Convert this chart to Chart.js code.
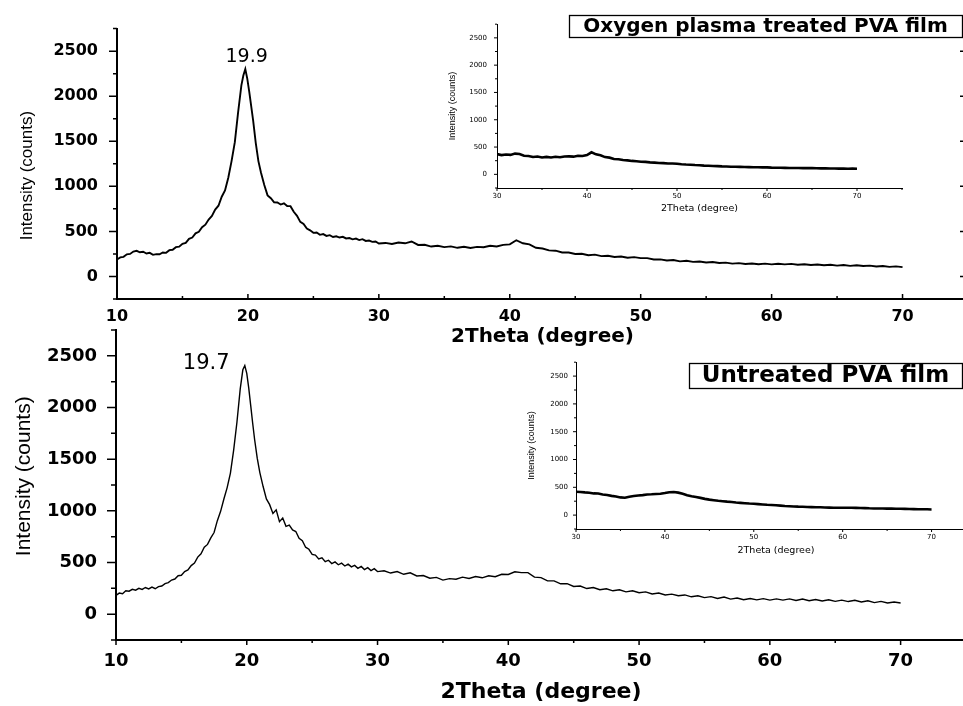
<!DOCTYPE html>
<html>
<head>
<meta charset="utf-8">
<script src="https://cdn.jsdelivr.net/npm/chart.js@4.4.0/dist/chart.umd.min.js"></script>
<style>
html,body{margin:0;padding:0;background:#fff;width:963px;height:706px;overflow:hidden;}
body{position:relative;}
canvas{position:absolute;}
</style>
</head>
<body>
<canvas id="mainTop" width="975" height="350" style="left:0;top:0"></canvas>
<canvas id="mainBottom" width="975" height="406" style="left:0;top:300px"></canvas>
<canvas id="insetTop" width="470" height="210" style="left:440px;top:10px"></canvas>
<canvas id="insetBottom" width="460" height="210" style="left:520px;top:350px"></canvas>
<script>
// ---------- tick labels ----------
const mainXTicks = [10, 20, 30, 40, 50, 60, 70];
const insetXTicks = [30, 40, 50, 60, 70];
const yTicks = [0, 500, 1000, 1500, 2000, 2500];

// ---------- Oxygen plasma treated PVA film (main, 2theta 10-70) ----------
const treatedMainX = [
  10,10.25,10.5,10.75,11,11.25,11.5,11.75,12,12.25,12.5,12.75,13,13.25,13.5,13.75,14,14.25,14.5,14.75,
  15,15.25,15.5,15.75,16,16.25,16.5,16.75,17,17.25,17.5,17.75,18,18.25,18.5,18.75,19,19.25,19.5,
  19.65,19.8,19.95,20.1,20.25,20.4,20.6,20.8,
  21,21.25,21.5,21.75,22,22.25,22.5,22.75,23,23.25,23.5,23.75,24,24.25,24.5,24.75,
  25,25.25,25.5,25.75,26,26.25,26.5,26.75,27,27.25,27.5,27.75,28,28.25,28.5,28.75,29,29.25,29.5,29.75,30,
  30.5,31,31.5,32,32.5,33,33.5,34,34.5,35,35.5,36,36.5,37,37.5,38,38.5,39,39.5,40,
  40.5,41,41.5,42,42.5,43,43.5,44,44.5,45,45.5,46,46.5,47,47.5,48,48.5,49,49.5,50,
  50.5,51,51.5,52,52.5,53,53.5,54,54.5,55,55.5,56,56.5,57,57.5,58,58.5,59,59.5,60,
  60.5,61,61.5,62,62.5,63,63.5,64,64.5,65,65.5,66,66.5,67,67.5,68,68.5,69,69.5,70
];
const treatedMainY = [
  188,212,218,246,250,276,285,268,274,255,262,240,248,246,266,262,292,296,325,330,
  362,372,418,432,478,495,546,575,632,672,742,785,885,955,1095,1280,1490,1820,2120,
  2230,2300,2195,2050,1890,1730,1480,1280,
  1150,1015,900,868,822,820,798,812,782,780,718,672,606,582,532,512,
  484,488,462,470,450,458,438,446,432,440,422,426,412,420,404,414,394,398,384,388,366,
  372,360,376,368,388,350,352,332,340,326,334,318,330,316,328,324,340,332,350,356,
  402,368,356,318,310,290,286,266,266,250,252,236,242,226,230,216,222,208,214,204,
  204,188,190,178,182,168,174,162,166,155,161,150,154,142,148,138,144,136,142,134,
  141,134,140,130,136,127,133,124,130,120,127,118,125,116,120,110,116,106,112,104
];

// ---------- Untreated PVA film (main, 2theta 10-70) ----------
const untreatedMainX = [
  10,10.25,10.5,10.75,11,11.25,11.5,11.75,12,12.25,12.5,12.75,13,13.25,13.5,13.75,14,14.25,14.5,14.75,
  15,15.25,15.5,15.75,16,16.25,16.5,16.75,17,17.25,17.5,17.75,18,18.25,18.5,18.75,19,19.25,19.5,
  19.7,19.85,20,20.15,20.3,20.45,20.6,20.8,
  21,21.25,21.5,21.75,22,22.25,22.5,22.75,23,23.25,23.5,23.75,24,24.25,24.5,24.75,
  25,25.25,25.5,25.75,26,26.25,26.5,26.75,27,27.25,27.5,27.75,28,28.25,28.5,28.75,29,29.25,29.5,29.75,30,
  30.5,31,31.5,32,32.5,33,33.5,34,34.5,35,35.5,36,36.5,37,37.5,38,38.5,39,39.5,40,
  40.5,41,41.5,42,42.5,43,43.5,44,44.5,45,45.5,46,46.5,47,47.5,48,48.5,49,49.5,50,
  50.5,51,51.5,52,52.5,53,53.5,54,54.5,55,55.5,56,56.5,57,57.5,58,58.5,59,59.5,60,
  60.5,61,61.5,62,62.5,63,63.5,64,64.5,65,65.5,66,66.5,67,67.5,68,68.5,69,69.5,70
];
const untreatedMainY = [
  182,204,198,226,222,240,232,250,240,258,244,262,246,266,272,296,306,330,340,372,
  376,412,428,470,495,552,585,648,675,738,790,905,995,1115,1225,1365,1590,1860,2180,
  2365,2405,2330,2190,2020,1850,1690,1510,
  1370,1235,1115,1060,975,1010,895,930,850,862,815,800,735,712,648,628,
  578,572,535,545,508,522,490,506,478,494,466,484,458,472,444,462,432,450,422,440,412,
  420,398,412,386,400,370,374,348,356,330,344,338,358,346,364,352,372,362,386,384,
  410,402,402,358,354,322,322,294,296,268,272,248,258,236,246,226,236,216,226,208,
  216,196,204,186,194,178,186,168,178,160,170,152,166,146,156,140,152,138,150,136,
  148,136,148,132,146,130,142,128,140,124,136,122,134,118,130,112,124,108,118,108
];

// ---------- insets (2theta 30-70) ----------
const insetX = [
  30,30.5,31,31.5,32,32.5,33,33.5,34,34.5,35,35.5,36,36.5,37,37.5,38,38.5,39,39.5,40,
  40.5,41,41.5,42,42.5,43,43.5,44,44.5,45,45.5,46,46.5,47,47.5,48,48.5,49,49.5,50,
  50.5,51,51.5,52,52.5,53,53.5,54,54.5,55,55.5,56,56.5,57,57.5,58,58.5,59,59.5,60,
  60.5,61,61.5,62,62.5,63,63.5,64,64.5,65,65.5,66,66.5,67,67.5,68,68.5,69,69.5,70
];
const treatedInsetY = [
  372,352,364,356,380,372,340,336,318,326,308,320,310,322,314,326,330,324,340,336,352,
  404,366,350,316,306,282,276,262,256,246,240,232,228,220,214,208,206,200,198,194,
  186,180,176,170,166,160,158,154,150,146,144,140,138,136,134,132,130,130,128,128,
  124,122,120,118,116,116,116,114,116,114,112,110,110,108,106,104,104,102,104,102
];
const untreatedInsetY = [
  420,416,408,402,390,388,372,362,346,334,318,312,330,342,352,360,370,374,380,384,396,
  412,414,404,384,358,338,324,310,292,278,268,258,250,242,236,226,220,214,208,204,
  198,192,186,182,176,170,164,160,156,152,150,146,144,142,140,136,134,132,132,132,
  132,132,130,128,126,122,120,120,118,116,116,114,114,112,110,108,106,104,104,102
];

const peakTreated = {x: 19.9, label: '19.9'};
const peakUntreated = {x: 19.7, label: '19.7'};

// ---------- helpers ----------
const pts = (xs, ys) => xs.map((x, i) => ({x: x, y: ys[i]}));
const isMajor = (v, step) => Math.abs(v / step - Math.round(v / step)) < 1e-6;

const decor = {
  id: 'decor',
  afterDraw(chart, args, o) {
    const {ctx, chartArea: a, scales: {x, y}} = chart;
    ctx.save();
    ctx.strokeStyle = '#000';
    ctx.fillStyle = '#000';
    const t = o.ticks;
    ctx.lineWidth = t.width;
    ctx.beginPath();
    for (let v = x.min; v <= x.max + 1e-6; v += t.xMinor) {
      const px = x.getPixelForValue(v);
      const len = isMajor(v, t.xMajor) ? t.xLen : t.xMinLen;
      ctx.moveTo(px, a.bottom);
      ctx.lineTo(px, a.bottom + t.xDir * len);
    }
    for (let v = y.min; v <= y.max + 1e-6; v += t.yMinor) {
      const py = y.getPixelForValue(v);
      const len = isMajor(v, t.yMajor) ? t.yLen : t.yMinLen;
      ctx.moveTo(a.left, py);
      ctx.lineTo(a.left - len, py);
      if (t.right) {
        ctx.moveTo(a.right, py);
        ctx.lineTo(a.right - len, py);
      }
    }
    ctx.stroke();
    (o.labels || []).forEach(l => {
      ctx.font = l.font;
      ctx.textAlign = 'center';
      ctx.textBaseline = 'middle';
      ctx.fillText(l.text, x.getPixelForValue(l.x), y.getPixelForValue(l.y));
    });
    (o.boxes || []).forEach(b => {
      ctx.lineWidth = 1.3;
      ctx.strokeRect(b.left + 0.5, b.top + 0.5, b.w, b.h);
      ctx.font = b.font;
      ctx.textAlign = 'center';
      ctx.textBaseline = 'middle';
      ctx.fillText(b.text, b.left + b.w / 2, b.top + b.h / 2 + 1);
    });
    ctx.restore();
  }
};

const NARROW = "'Liberation Sans Narrow', 'Liberation Sans', Arial, sans-serif";
const WIDE = "'DejaVu Sans', sans-serif";

function makeChart(id, cfg) {
  return new Chart(document.getElementById(id), {
    type: 'line',
    data: {datasets: [{
      data: pts(cfg.xs, cfg.ys),
      borderColor: '#000',
      borderWidth: cfg.lineWidth,
      pointRadius: 0,
      tension: 0,
      fill: false
    }]},
    plugins: [decor],
    options: {
      responsive: false,
      animation: false,
      devicePixelRatio: 1,
      events: [],
      layout: {padding: cfg.padding},
      plugins: {
        legend: {display: false},
        tooltip: {enabled: false},
        decor: cfg.decor
      },
      scales: {
        x: {
          type: 'linear', min: cfg.xMin, max: 75,
          afterFit: s => { s.height = cfg.xHeight; },
          afterBuildTicks: s => { s.ticks = cfg.xTicks.map(v => ({value: v})); },
          grid: {display: true, drawOnChartArea: false, drawTicks: false},
          border: {display: true, color: '#000', width: cfg.axisWidth},
          ticks: {color: '#000', autoSkip: false, maxRotation: 0, padding: cfg.xTickPad,
                  font: {family: WIDE, size: cfg.tickSize, weight: cfg.tickWeight},
                  callback: v => String(v)},
          title: {display: true, text: '2Theta (degree)', color: '#000',
                  font: {family: WIDE, size: cfg.xTitleSize, weight: cfg.tickWeight},
                  padding: {top: 0, bottom: cfg.xTitlePad}}
        },
        y: {
          type: 'linear', min: -250, max: 2750,
          afterFit: s => { s.width = cfg.yWidth; },
          afterBuildTicks: s => { s.ticks = yTicks.map(v => ({value: v})); },
          grid: {display: true, drawOnChartArea: false, drawTicks: false},
          border: {display: true, color: '#000', width: cfg.axisWidth},
          ticks: {color: '#000', autoSkip: false, padding: cfg.yTickPad,
                  font: {family: WIDE, size: cfg.tickSize, weight: cfg.tickWeight},
                  callback: v => String(v)},
          title: {display: true, text: cfg.yTitleHead + 'Intensity (counts)' + cfg.yTitleTail, color: '#000',
                  font: {family: NARROW, size: cfg.yTitleSize},
                  padding: {top: cfg.yTitlePad, bottom: 0}}
        }
      }
    }
  });
}

// top main panel
makeChart('mainTop', {
  xs: treatedMainX, ys: treatedMainY, lineWidth: 1.9, xMin: 10, xTicks: mainXTicks,
  padding: {top: 13, right: 7, left: 0, bottom: 0},
  xHeight: 51, yWidth: 117, axisWidth: 2,
  tickSize: 16, tickWeight: 'bold', xTickPad: 8.4, yTickPad: 19,
  xTitleSize: 20, xTitlePad: 1,
  yTitleSize: 17, yTitlePad: 17, yTitleHead: '', yTitleTail: '     ',
  decor: {
    ticks: {width: 1.5, xMinor: 5, xMajor: 10, xDir: -1, xLen: 5, xMinLen: 3,
            yMinor: 250, yMajor: 500, yLen: 8, yMinLen: 4, right: true},
    labels: [{x: peakTreated.x, y: 2430, text: peakTreated.label, font: '19px ' + WIDE}],
    boxes: [{left: 569, top: 15, w: 393, h: 22, text: 'Oxygen plasma treated PVA film', font: 'bold 20px ' + WIDE}]
  }
});

// bottom main panel
makeChart('mainBottom', {
  xs: untreatedMainX, ys: untreatedMainY, lineWidth: 1.4, xMin: 10, xTicks: mainXTicks,
  padding: {top: 30, right: 9, left: 0, bottom: 0},
  xHeight: 66, yWidth: 116, axisWidth: 2,
  tickSize: 18, tickWeight: 'bold', xTickPad: 11, yTickPad: 19,
  xTitleSize: 22, xTitlePad: 1,
  yTitleSize: 21, yTitlePad: 12, yTitleHead: '   ', yTitleTail: '',
  decor: {
    ticks: {width: 1.5, xMinor: 5, xMajor: 10, xDir: 1, xLen: 5, xMinLen: 3,
            yMinor: 250, yMajor: 500, yLen: 9, yMinLen: 5, right: false},
    labels: [{x: 16.9, y: 2430, text: peakUntreated.label, font: '21px ' + WIDE}],
    boxes: [{left: 689, top: 63, w: 273, h: 25, text: 'Untreated PVA film', font: 'bold 23px ' + WIDE}]
  }
});

// top inset
makeChart('insetTop', {
  xs: insetX, ys: treatedInsetY, lineWidth: 2.6, xMin: 30, xTicks: insetXTicks,
  padding: {top: 12, right: 8, left: 0, bottom: 0},
  xHeight: 32, yWidth: 57, axisWidth: 1,
  tickSize: 7, tickWeight: 'normal', xTickPad: 3.8, yTickPad: 10,
  xTitleSize: 9.5, xTitlePad: 5.3,
  yTitleSize: 9, yTitlePad: 7.6, yTitleHead: '', yTitleTail: '',
  decor: {
    ticks: {width: 1, xMinor: 5, xMajor: 10, xDir: 1, xLen: 3, xMinLen: 2,
            yMinor: 250, yMajor: 500, yLen: 3, yMinLen: 2, right: false}
  }
});

// bottom inset
makeChart('insetBottom', {
  xs: insetX, ys: untreatedInsetY, lineWidth: 2.6, xMin: 30, xTicks: insetXTicks,
  padding: {top: 12, right: 4, left: 0, bottom: 0},
  xHeight: 31, yWidth: 56, axisWidth: 1,
  tickSize: 7, tickWeight: 'normal', xTickPad: 3.8, yTickPad: 8,
  xTitleSize: 9.5, xTitlePad: 3.3,
  yTitleSize: 9, yTitlePad: 6.6, yTitleHead: '', yTitleTail: '',
  decor: {
    ticks: {width: 1, xMinor: 5, xMajor: 10, xDir: 1, xLen: 3, xMinLen: 2,
            yMinor: 250, yMajor: 500, yLen: 3, yMinLen: 2, right: false}
  }
});
</script>
</body>
</html>
